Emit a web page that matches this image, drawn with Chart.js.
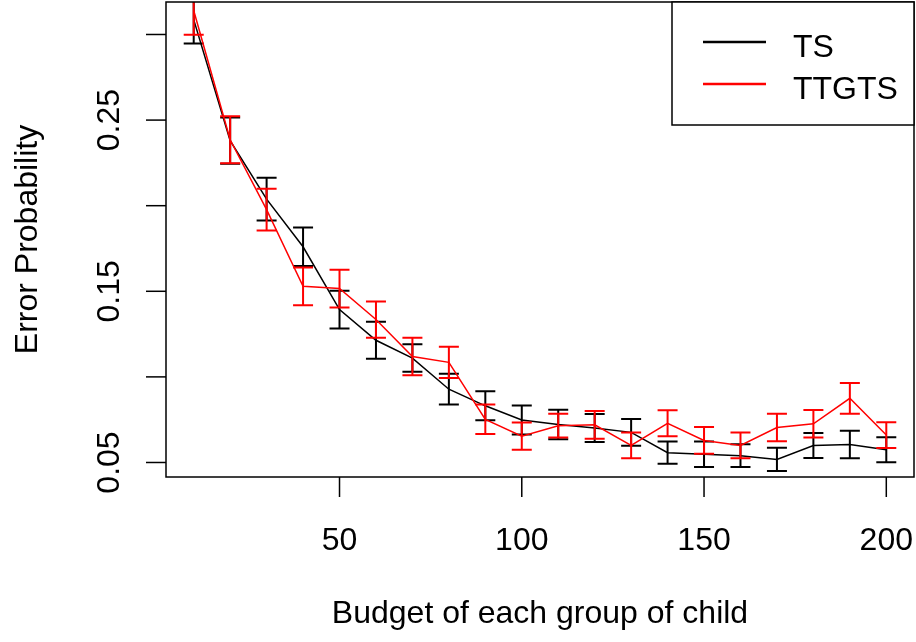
<!DOCTYPE html>
<html lang="en">
<head>
    <meta charset="UTF-8">
    <title>Error Probability vs Budget</title>
    <script src="https://cdn.jsdelivr.net/npm/chart.js"></script>
    <style>
        body { margin: 0; background: #fff; }
        #wrap { width: 916px; height: 642px; }
    </style>
</head>
<body>
    <div id="wrap">
        <canvas id="myChart" width="916" height="642"></canvas>
    </div>
</body>
</html>

<script>
// budget values on the x axis
const budget = [10, 20, 30, 40, 50, 60, 70, 80, 90, 100, 110, 120, 130, 140, 150, 160, 170, 180, 190, 200];

// TS series: mean error probability and half width of the error bar
const tsMean = [0.3087, 0.2380, 0.2038, 0.1760, 0.1393, 0.1214, 0.1110, 0.0928, 0.0831, 0.0748,
                0.0722, 0.0701, 0.0676, 0.0557, 0.0548, 0.0540, 0.0518, 0.0599, 0.0605, 0.0575];
const tsErr = [0.0140, 0.0135, 0.0125, 0.0113, 0.0110, 0.0108, 0.0080, 0.0090, 0.0085, 0.0085,
               0.0086, 0.0082, 0.0078, 0.0065, 0.0075, 0.0067, 0.0068, 0.0073, 0.0080, 0.0073];

// TTGTS series
const ttgtsMean = [0.3140, 0.2385, 0.1977, 0.1529, 0.1516, 0.1335, 0.1119, 0.1085, 0.0752, 0.0654,
                   0.0715, 0.0720, 0.0600, 0.0729, 0.0629, 0.0600, 0.0704, 0.0726, 0.0875, 0.0660];
const ttgtsErr = [0.0141, 0.0137, 0.0122, 0.0110, 0.0110, 0.0106, 0.0110, 0.0091, 0.0086, 0.0080,
                  0.0069, 0.0081, 0.0075, 0.0076, 0.0078, 0.0075, 0.0080, 0.0080, 0.0090, 0.0075];

const seriesNames = ['TS', 'TTGTS'];
const seriesColors = ['#000000', '#ff0000'];

// axis ticks (R only printed every other y label)
const xTicks = [50, 100, 150, 200];
const yTicks = [0.05, 0.10, 0.15, 0.20, 0.25, 0.30];
const yTickLabels = ['0.05', '', '0.15', '', '0.25', ''];

const xTitle = 'Budget of each group of child';
const yTitle = 'Error Probability';

const FONT = '32px "Liberation Sans", Arial, sans-serif';

// R style axis limits: data range plus 4% each side
function rRange(vals) {
    let lo = Math.min(...vals), hi = Math.max(...vals);
    let d = (hi - lo) * 0.04;
    return [lo - d, hi + d];
}
const xLim = rRange(budget);
const yLim = rRange(tsMean);

function toPoints(xs, ys) {
    let pts = [];
    for (let i = 0; i < xs.length; i++) {
        pts.push({ x: xs[i], y: ys[i] });
    }
    return pts;
}

const errors = [tsErr, ttgtsErr];

// error bars drawn right after each dataset
const errorBars = {
    id: 'errorBars',
    afterDatasetDraw(chart, args) {
        const ctx = chart.ctx;
        const area = chart.chartArea;
        const xs = chart.scales.x, ys = chart.scales.y;
        const ds = chart.data.datasets[args.index];
        const err = errors[args.index];
        ctx.save();
        ctx.beginPath();
        ctx.rect(area.left, area.top, area.right - area.left, area.bottom - area.top);
        ctx.clip();
        ctx.strokeStyle = ds.borderColor;
        ctx.lineWidth = 2;
        ds.data.forEach(function (p, i) {
            let px = xs.getPixelForValue(p.x);
            let top = ys.getPixelForValue(p.y + err[i]);
            let bot = ys.getPixelForValue(p.y - err[i]);
            ctx.beginPath();
            ctx.moveTo(px, top); ctx.lineTo(px, bot);
            ctx.moveTo(px - 10, top); ctx.lineTo(px + 10, top);
            ctx.moveTo(px - 10, bot); ctx.lineTo(px + 10, bot);
            ctx.stroke();
        });
        ctx.restore();
    }
};

// box, ticks, labels and legend in R base graphics style
const rAxes = {
    id: 'rAxes',
    afterDraw(chart) {
        const ctx = chart.ctx;
        const a = chart.chartArea;
        const xs = chart.scales.x, ys = chart.scales.y;
        ctx.save();
        ctx.strokeStyle = '#000';
        ctx.fillStyle = '#000';
        ctx.lineWidth = 1.5;
        ctx.strokeRect(a.left, a.top, a.right - a.left, a.bottom - a.top);

        ctx.font = FONT;
        // x axis
        ctx.textAlign = 'center';
        ctx.textBaseline = 'alphabetic';
        xTicks.forEach(function (v) {
            let px = xs.getPixelForValue(v);
            ctx.beginPath();
            ctx.moveTo(px, a.bottom); ctx.lineTo(px, a.bottom + 20);
            ctx.stroke();
            ctx.fillText(String(v), px, 550);
        });
        // y axis
        yTicks.forEach(function (v, i) {
            let py = ys.getPixelForValue(v);
            ctx.beginPath();
            ctx.moveTo(a.left, py); ctx.lineTo(a.left - 20, py);
            ctx.stroke();
            if (yTickLabels[i]) {
                ctx.save();
                ctx.translate(119, py);
                ctx.rotate(-Math.PI / 2);
                ctx.fillText(yTickLabels[i], 0, 0);
                ctx.restore();
            }
        });
        // titles
        ctx.fillText(xTitle, (a.left + a.right) / 2, 623);
        ctx.save();
        ctx.translate(37, (a.top + a.bottom) / 2);
        ctx.rotate(-Math.PI / 2);
        ctx.fillText(yTitle, 0, 0);
        ctx.restore();

        // legend
        const lx = 672, ly = a.top;
        ctx.fillStyle = '#fff';
        ctx.fillRect(lx, ly, a.right - lx, 125 - ly);
        ctx.strokeRect(lx, ly, a.right - lx, 125 - ly);
        ctx.textAlign = 'left';
        seriesNames.forEach(function (name, i) {
            let y = 42 + i * 42;
            ctx.strokeStyle = seriesColors[i];
            ctx.lineWidth = 2.5;
            ctx.beginPath();
            ctx.moveTo(703, y); ctx.lineTo(766, y);
            ctx.stroke();
            ctx.fillStyle = '#000';
            ctx.fillText(name, 793, y + 15);
        });
        ctx.restore();
    }
};

const dados = {
    datasets: [
        {
            label: seriesNames[0],
            data: toPoints(budget, tsMean),
            borderColor: seriesColors[0],
            borderWidth: 1.5,
            pointRadius: 0,
            tension: 0,
            clip: 0,
            order: 1
        },
        {
            label: seriesNames[1],
            data: toPoints(budget, ttgtsMean),
            borderColor: seriesColors[1],
            borderWidth: 1.5,
            pointRadius: 0,
            tension: 0,
            clip: 0,
            order: 0
        }
    ]
};

const config = {
    type: 'line',
    data: dados,
    options: {
        responsive: false,
        animation: false,
        layout: { padding: { left: 166, top: 2, right: 2, bottom: 165 } },
        plugins: { legend: { display: false }, tooltip: { enabled: false } },
        scales: {
            x: { type: 'linear', min: xLim[0], max: xLim[1], display: false },
            y: { type: 'linear', min: yLim[0], max: yLim[1], display: false }
        }
    },
    plugins: [errorBars, rAxes]
};

let myChart = new Chart(document.getElementById('myChart'), config);
</script>
